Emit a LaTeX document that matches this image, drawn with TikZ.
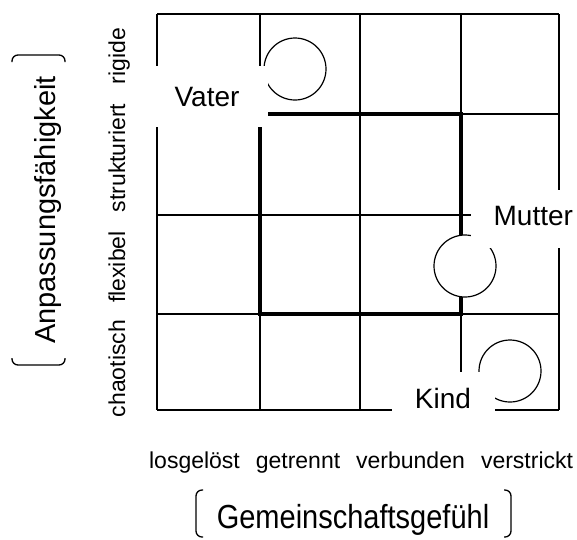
\documentclass[tikz,border=0pt]{standalone}
\usepackage{fontspec}
\setmainfont{Liberation Sans}
\tikzset{
  gridline/.style = {line width=1.4pt},
  frameline/.style = {line width=4pt},
  member/.style = {circle, draw=black, fill=white, line width=1.2pt,
    minimum size=62pt, inner sep=0pt},% family member
  role/.style = {fill=white, inner sep=0pt, font=\fontsize{28}{32}\selectfont},
  level/.style = {inner sep=0pt, anchor=base, font=\fontsize{23}{27}\selectfont},
  axis/.style = {inner sep=0pt, anchor=base, font=\fontsize{29}{33}\selectfont},
  bracket/.style = {line width=1.3pt, rounded corners=6pt}
}

\begin{document}
\begin{tikzpicture}[x=1pt,y=-1pt]
\useasboundingbox (0,0) rectangle (577,539);
% grid
\foreach \x in {157,260,360,461,559}
  \draw[gridline] (\x,14) -- (\x,410);
\foreach \y in {14,114,215,314,410}
  \draw[gridline] (157,\y) -- (559,\y);
% family frame
\draw[frameline] (260,114) rectangle (461,314);
% members
\node[member] (cv) at (295,69) {};
\node[member] (cm) at (465,266) {};
\node[member] (ck) at (510,371) {};
\node[role, minimum width=122pt, minimum height=61pt] (vater) at (207,96.5) {Vater};
\node[role, minimum width=106pt, minimum height=58pt, text width=98pt,
  align=right, text depth=6pt] (mutter) at (524,219) {Mutter};
\node[role, minimum width=103pt, minimum height=53pt] (kind) at (443,398.5) {Kind};
% levels
\node[level, rotate=90] (rigide) at (125,56) {rigide};
\node[level, rotate=90] (strukt) at (125,158) {strukturiert};
\node[level, rotate=90] (flex) at (125,267) {flexibel};
\node[level, rotate=90] (chaot) at (125,368.5) {chaotisch};
\node[level] (los) at (194.5,468) {losgelöst};
\node[level] (getr) at (298,468) {getrennt};
\node[level] (verb) at (410.5,468) {verbunden};
\node[level] (verst) at (527,468) {verstrickt};
% axes
\node[axis, rotate=90] (anp) at (55,210) {Anpassungsfähigkeit};
\node[axis] (gem) at (353,528) {\scalebox{1}[1.15]{Gemeinschaftsgefühl}};
\draw[bracket] (12,62) -- (12,55) -- (65,55) -- (65,62);
\draw[bracket] (12,358) -- (12,365) -- (65,365) -- (65,358);
\draw[bracket] (203,490) -- (196,490) -- (196,537) -- (203,537);
\draw[bracket] (504,490) -- (511,490) -- (511,537) -- (504,537);
\end{tikzpicture}
\end{document}
